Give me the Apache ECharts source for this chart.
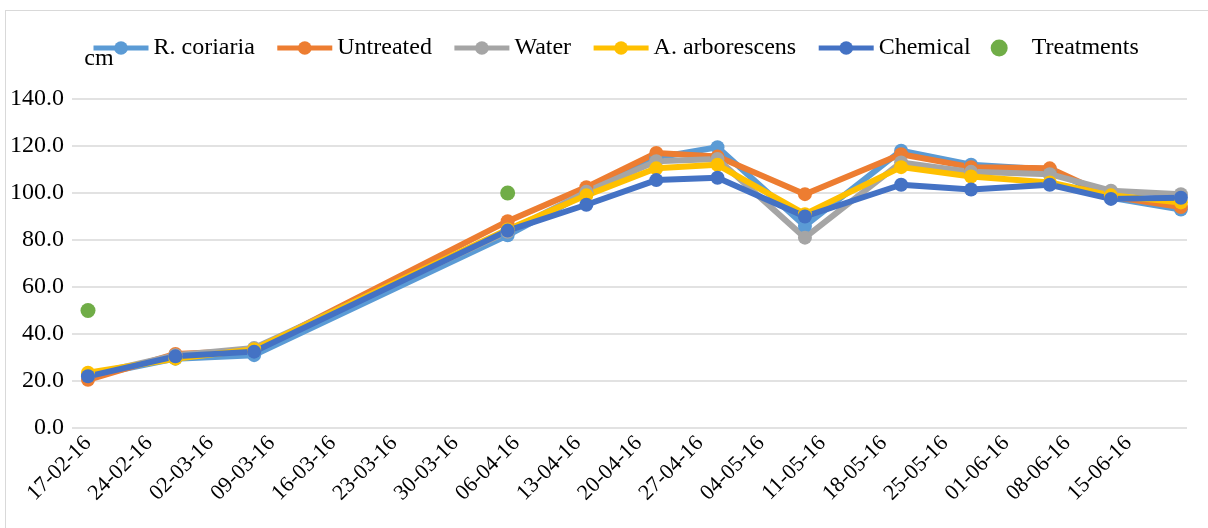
<!DOCTYPE html>
<html style="height: 100%">
<head>
<meta charset="utf-8">
<script src="https://cdn.jsdelivr.net/npm/echarts@6/dist/echarts.min.js"></script>
<style>
  body { margin: 0; background: #fff; }
  #frame { position: absolute; left: 5px; top: 10px; width: 1210px; height: 530px; border: 1px solid #d9d9d9; }
  #container { position: absolute; left: 0; top: 0; width: 1208px; height: 528px; }
</style>
</head>
<body>
<div id="frame"></div>
<div id="container"></div>
<script>
// sampling dates
var dates = ['2016-02-17', '2016-02-27', '2016-03-07', '2016-04-05', '2016-04-14', '2016-04-22',
             '2016-04-29', '2016-05-09', '2016-05-20', '2016-05-28', '2016-06-06', '2016-06-13', '2016-06-21'];
var rCoriaria = [22.0, 29.5, 31.0, 82.0, 100.0, 115.0, 119.5, 86.0, 118.0, 112.0, 110.0, 98.0, 93.0];
var untreated = [20.5, 31.5, 33.0, 88.0, 102.5, 117.0, 115.5, 99.5, 116.5, 111.0, 110.5, 98.5, 94.0];
var water     = [22.5, 31.0, 34.0, 83.5, 100.5, 113.5, 114.5, 81.0, 113.0, 109.0, 108.0, 101.0, 99.5];
var aArbor    = [23.5, 29.5, 33.5, 84.5, 99.0, 110.5, 112.0, 91.0, 111.0, 107.0, 104.5, 99.0, 96.0];
var chemical  = [22.0, 30.5, 32.5, 84.0, 95.0, 105.5, 106.5, 90.0, 103.5, 101.5, 103.5, 97.5, 98.0];
// treatment markers
var treatDates = ['2016-02-17', '2016-04-05'];
var treatValues = [50, 100];
// x tick labels
var tickLabels = ['17-02-16', '24-02-16', '02-03-16', '09-03-16', '16-03-16', '23-03-16', '30-03-16',
                  '06-04-16', '13-04-16', '20-04-16', '27-04-16', '04-05-16', '11-05-16', '18-05-16',
                  '25-05-16', '01-06-16', '08-06-16', '15-06-16'];

var start = Date.parse(dates[0]);
function dayOf(d) { return (Date.parse(d) - start) / 864e5; }
function dayOfLabel(s) {
    var p = s.split('-');
    return dayOf('20' + p[2] + '-' + p[1] + '-' + p[0]);
}
var tickDays = tickLabels.map(dayOfLabel);
var labelByDay = {};
tickDays.forEach(function (d, i) { labelByDay[d] = tickLabels[i]; });

function pairs(vals) {
    return vals.map(function (v, i) { return [dayOf(dates[i]), v]; });
}

var font = 'Liberation Serif';
var chart = echarts.init(document.getElementById('container'));

function lineSeries(name, vals, color) {
    return {
        name: name,
        type: 'line',
        data: pairs(vals),
        symbol: 'circle',
        symbolSize: 14,
        lineStyle: { width: 6, color: color },
        itemStyle: { color: color },
        animation: false
    };
}

var option = {
    textStyle: { fontFamily: font },
    legend: {
        left: 86,
        top: 31,
        itemWidth: 55,
        itemHeight: 17,
        itemGap: 20,
        lineStyle: { width: 5 },
        textStyle: { fontFamily: font, fontSize: 24, color: '#000' },
        data: ['R. coriaria', 'Untreated', 'Water', 'A. arborescens', 'Chemical', 'Treatments']
    },
    grid: { left: 72, right: 21, top: 99, bottom: 100 },
    xAxis: {
        type: 'value',
        min: -1.83,
        max: 125.7,
        axisLine: { show: false },
        axisTick: { show: false },
        splitLine: { show: false },
        axisLabel: {
            customValues: tickDays,
            rotate: 45,
            margin: 12,
            fontFamily: font,
            fontSize: 22,
            color: '#000',
            formatter: function (v) { return labelByDay[v] || ''; }
        }
    },
    yAxis: {
        type: 'value',
        min: 0,
        max: 140,
        interval: 20,
        name: 'cm',
        nameGap: 40,
        nameTextStyle: { fontFamily: font, fontSize: 24, color: '#000', verticalAlign: 'middle', padding: [0, 0, 0, 22] },
        axisLine: { show: false },
        axisTick: { show: false },
        splitLine: { lineStyle: { color: '#d9d9d9', width: 1.5 } },
        axisLabel: {
            margin: 8,
            fontFamily: font,
            fontSize: 24,
            color: '#000',
            formatter: function (v) { return v.toFixed(1); }
        }
    },
    series: [
        lineSeries('R. coriaria', rCoriaria, '#5B9BD5'),
        lineSeries('Untreated', untreated, '#ED7D31'),
        lineSeries('Water', water, '#A5A5A5'),
        lineSeries('A. arborescens', aArbor, '#FFC000'),
        lineSeries('Chemical', chemical, '#4472C4'),
        {
            name: 'Treatments',
            type: 'scatter',
            symbolSize: 15,
            itemStyle: { color: '#70AD47', opacity: 1 },
            data: treatValues.map(function (v, i) { return [dayOf(treatDates[i]), v]; }),
            animation: false
        }
    ]
};
chart.setOption(option);
</script>
</body>
</html>
